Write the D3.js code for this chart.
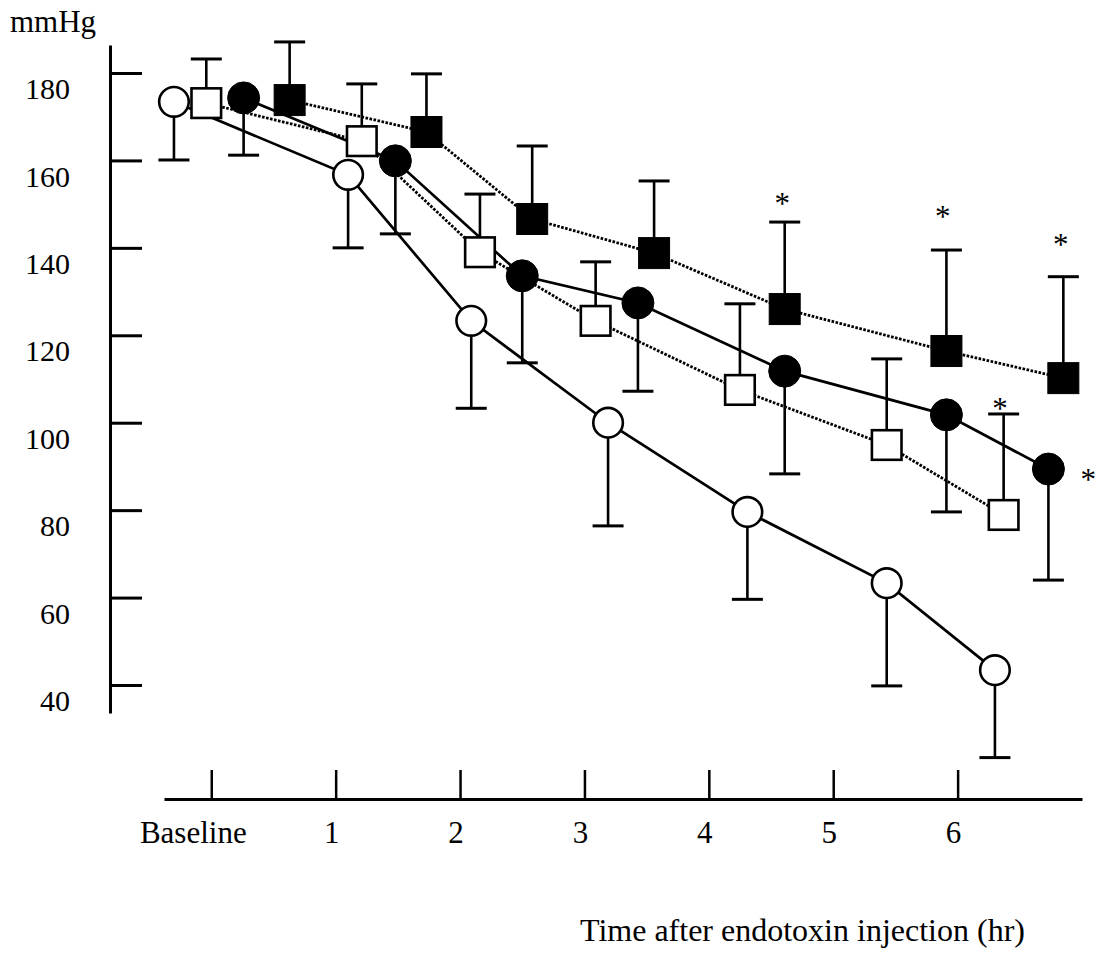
<!DOCTYPE html>
<html>
<head>
<meta charset="utf-8">
<script src="https://cdn.jsdelivr.net/npm/d3@7"></script>
<style>
  html, body { margin: 0; padding: 0; background: #fff; }
  svg { display: block; }
  text { font-family: "Liberation Serif", "Times New Roman", serif; fill: #000; }
</style>
</head>
<body>
<svg id="chart" width="1098" height="958"></svg>
<script>
// ---------------- data ----------------
const tickHours  = [0, 1, 2, 3, 4, 5, 6];
const tickLabels = ["Baseline", "1", "2", "3", "4", "5", "6"];
const yTicks     = [40, 60, 80, 100, 120, 140, 160, 180];
const yUnit      = "mmHg";
const xTitle     = "Time after endotoxin injection (hr)";

// plotted time (hr) of each point, mean (mmHg) and SD (mmHg)
const openCircleX    = [-0.30, 1.10, 2.09, 3.19, 4.31, 5.43, 6.30];
const openCircleMean = [173.4, 156.7, 123.3, 100.0, 79.6, 63.3, 43.4];
const openCircleSD   = [13.3, 16.7, 20.0, 23.6, 20.0, 23.5, 20.0];

const openSquareX    = [-0.04, 1.21, 2.16, 3.09, 4.25, 5.43, 6.37];
const openSquareMean = [173.1, 164.4, 139.0, 123.3, 107.5, 94.9, 78.9];
const openSquareSD   = [10.1, 13.1, 13.3, 13.5, 19.7, 19.7, 23.1];

const filledCircleX    = [0.26, 1.48, 2.50, 3.43, 4.61, 5.91, 6.73];
const filledCircleMean = [174.3, 159.9, 133.6, 127.4, 111.8, 101.8, 89.4];
const filledCircleSD   = [13.1, 16.7, 19.9, 20.2, 23.5, 22.2, 25.4];

const filledSquareX    = [0.63, 1.73, 2.58, 3.56, 4.61, 5.91, 6.85];
const filledSquareMean = [173.8, 166.5, 146.6, 138.8, 126.0, 116.4, 110.2];
const filledSquareSD   = [13.3, 13.3, 16.7, 16.5, 19.9, 23.1, 23.2];

// significance marks (*) in data coordinates: hr, mmHg
const sigX = [4.59, 5.88, 6.83, 6.34, 7.05];
const sigY = [151.6, 148.7, 142.3, 104.7, 88.5];

// ---------------- layout ----------------
const svg = d3.select("#chart");
const x = d3.scaleLinear().domain([-0.38, 7.0]).range([164, 1082]);
const y = d3.scaleLinear().domain([33.6, 186.4]).range([713, 45]);

const series = [
  {xs: openCircleX,   m: openCircleMean,   sd: openCircleSD,   shape: "circle", fill: "#fff", dash: null,      dir: -1},
  {xs: openSquareX,   m: openSquareMean,   sd: openSquareSD,   shape: "square", fill: "#fff", dash: "2.6,1.5", dir: 1},
  {xs: filledCircleX, m: filledCircleMean, sd: filledCircleSD, shape: "circle", fill: "#000", dash: null,      dir: -1},
  {xs: filledSquareX, m: filledSquareMean, sd: filledSquareSD, shape: "square", fill: "#000", dash: "2.6,1.5", dir: 1}
].map(s => ({...s, pts: s.xs.map((t, i) => ({t, v: s.m[i], sd: s.sd[i]}))}));

// ---------------- axes ----------------
const yAxis = d3.axisLeft(y).tickValues(yTicks).tickSizeInner(-32).tickSizeOuter(0).tickPadding(40);
const gy = svg.append("g").attr("transform", "translate(110,0)").call(yAxis);
gy.select(".domain").attr("stroke", "#000").attr("stroke-width", 3);
gy.selectAll(".tick line").attr("stroke", "#000").attr("stroke-width", 3);
gy.selectAll(".tick text").attr("font-size", 30).attr("font-family", "Liberation Serif, serif")
  .attr("dy", "0.32em").attr("transform", "translate(0,16)");

const xAxis = d3.axisBottom(x).tickValues(tickHours).tickSizeInner(-29).tickSizeOuter(0).tickFormat(() => "");
const gx = svg.append("g").attr("transform", "translate(0,799)").call(xAxis);
gx.select(".domain").attr("stroke", "#000").attr("stroke-width", 3);
gx.selectAll(".tick line").attr("stroke", "#000").attr("stroke-width", 2.5);

svg.append("g").selectAll("text").data(tickHours).join("text")
  .attr("x", (d, i) => x(d) + (i === 0 ? -18 : -4))
  .attr("y", 843)
  .attr("text-anchor", "middle")
  .attr("font-size", 31)
  .text((d, i) => tickLabels[i]);

svg.append("text").attr("x", 10).attr("y", 32).attr("font-size", 31).text(yUnit);
svg.append("text").attr("x", 580).attr("y", 941).attr("font-size", 32).text(xTitle);

// ---------------- lines ----------------
const line = d3.line().x(d => x(d.t)).y(d => y(d.v));
svg.append("g").selectAll("path").data(series).join("path")
  .attr("d", s => line(s.pts))
  .attr("fill", "none")
  .attr("stroke", "#000")
  .attr("stroke-width", s => s.dash ? 2.8 : 2.7)
  .attr("stroke-dasharray", s => s.dash);

// ---------------- error bars ----------------
const eb = svg.append("g");
series.forEach(s => {
  const g = eb.append("g");
  g.selectAll("line.stem").data(s.pts).join("line").attr("class", "stem")
    .attr("x1", d => x(d.t)).attr("x2", d => x(d.t))
    .attr("y1", d => y(d.v)).attr("y2", d => y(d.v + s.dir * d.sd))
    .attr("stroke", "#000").attr("stroke-width", 2.6);
  g.selectAll("line.cap").data(s.pts).join("line").attr("class", "cap")
    .attr("x1", d => x(d.t) - 15.5).attr("x2", d => x(d.t) + 15.5)
    .attr("y1", d => y(d.v + s.dir * d.sd)).attr("y2", d => y(d.v + s.dir * d.sd))
    .attr("stroke", "#000").attr("stroke-width", 3);
});

// ---------------- markers ----------------
const mk = svg.append("g");
series.forEach(s => {
  const g = mk.append("g");
  if (s.shape === "circle") {
    g.selectAll("circle").data(s.pts).join("circle")
      .attr("cx", d => x(d.t)).attr("cy", d => y(d.v))
      .attr("r", s.fill === "#000" ? 16 : 14.8)
      .attr("fill", s.fill).attr("stroke", "#000").attr("stroke-width", s.fill === "#000" ? 1 : 2.6);
  } else {
    const h = s.fill === "#000" ? 15.5 : 14.8;
    g.selectAll("rect").data(s.pts).join("rect")
      .attr("x", d => x(d.t) - h).attr("y", d => y(d.v) - h)
      .attr("width", 2 * h).attr("height", 2 * h)
      .attr("fill", s.fill).attr("stroke", "#000").attr("stroke-width", s.fill === "#000" ? 1 : 2.6);
  }
});

// ---------------- significance ----------------
svg.append("g").selectAll("text").data(sigX).join("text")
  .attr("x", (d) => x(d))
  .attr("y", (d, i) => y(sigY[i]))
  .attr("dy", "0.55em")
  .attr("text-anchor", "middle")
  .attr("font-size", 31)
  .text("*");
</script>
</body>
</html>
